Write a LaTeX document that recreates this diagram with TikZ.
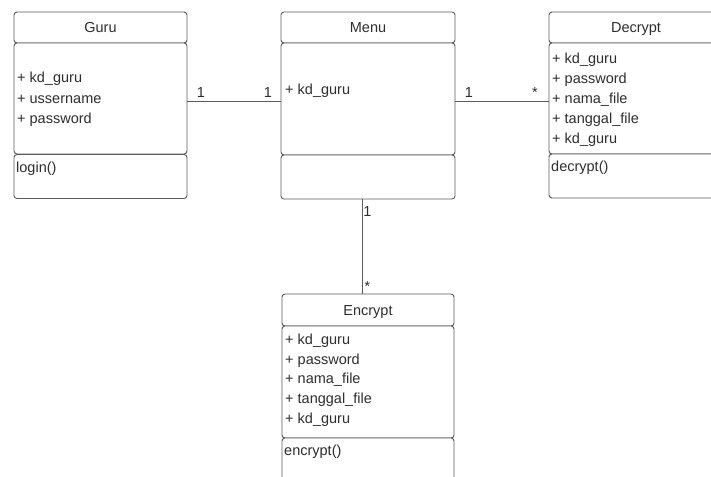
\documentclass[tikz,border=0pt]{standalone}
\usepackage{fontspec}
\setmainfont{Liberation Sans}
\definecolor{linegray}{HTML}{5C5C5C}
\definecolor{textgray}{HTML}{2E2E2E}
\tikzset{
  compart/.style={draw=linegray, line width=0.9pt, rounded corners=3pt, fill=white,
    inner sep=0pt, outer sep=0pt},
  headbox/.style={compart, text=textgray, font=\fontsize{14.5}{19.5}\selectfont,
    text height=10.5pt, text depth=0pt},
  member/.style={text=textgray, font=\fontsize{14.5}{19.5}\selectfont, inner sep=0pt,
    anchor=base west},
  mult/.style={text=textgray, font=\fontsize{14.5}{19.5}\selectfont, inner sep=0pt,
    anchor=base},
  assoc/.style={draw=linegray, line width=0.9pt}
}
\begin{document}
\begin{tikzpicture}[x=1pt, y=-1pt]
  \useasboundingbox (0,0) rectangle (711,476);
  \clip (0,0) rectangle (711,476);

  % class Guru
  \node[headbox, minimum width=173pt, minimum height=31pt] (guruHead) at (100.5,27.5) {Guru};
  \node[compart, minimum width=173pt, minimum height=111pt] (guruAttr) at (100.5,98.5) {};
  \node[compart, minimum width=173pt, minimum height=44pt] (guruOps) at (100.5,176.5) {};
  \foreach \t [count=\i] in {+ kd\_guru, + ussername, + password}
    \node[member] (guruA\i) at (17,63+20*\i) {\t};
  \node[member] (guruM) at (16,172) {login()};

  % class Menu
  \node[headbox, minimum width=174pt, minimum height=31pt] (menuHead) at (368,27.5) {Menu};
  \node[compart, minimum width=174pt, minimum height=112pt] (menuAttr) at (368,99) {};
  \node[compart, minimum width=174pt, minimum height=44pt] (menuOps) at (368,177) {};
  \node[member] (menuA1) at (285,95) {+ kd\_guru};

  % class Decrypt
  \node[headbox, minimum width=174pt, minimum height=31pt] (decHead) at (636,27.5) {Decrypt};
  \node[compart, minimum width=174pt, minimum height=111pt] (decAttr) at (636,98.5) {};
  \node[compart, minimum width=174pt, minimum height=44pt] (decOps) at (636,176) {};
  \foreach \t [count=\i] in {+ kd\_guru, + password, + nama\_file, + tanggal\_file, + kd\_guru}
    \node[member] (decA\i) at (552,44.2+19.8*\i) {\t};
  \node[member] (decM) at (551,171) {decrypt()};

  % class Encrypt
  \node[headbox, minimum width=172pt, minimum height=32pt] (encHead) at (368,310) {Encrypt};
  \node[compart, minimum width=172pt, minimum height=112pt] (encAttr) at (368,382) {};
  \node[compart, minimum width=172pt, minimum height=44pt] (encOps) at (368,460) {};
  \foreach \t [count=\i] in {+ kd\_guru, + password, + nama\_file, + tanggal\_file, + kd\_guru}
    \node[member] (encA\i) at (285,324.5+19.8*\i) {\t};
  \node[member] (encM) at (284,455) {encrypt()};

  % associations
  \draw[assoc] ([yshift=-2.5pt]guruAttr.east) -- ([yshift=-2pt]menuAttr.west);
  \draw[assoc] ([yshift=-2pt]menuAttr.east) -- ([yshift=-2.5pt]decAttr.west);
  \draw[assoc] ([xshift=-6pt]menuOps.south) -- ([xshift=-6pt]encHead.north);

  % multiplicities
  \node[mult] (mGuru) at (201,98) {1};
  \node[mult] (mMenuL) at (268,98) {1};
  \node[mult] (mMenuR) at (469,98) {1};
  \node[mult] (mDec) at (535,98) {*};
  \node[mult] (mMenuB) at (367.5,216) {1};
  \node[mult] (mEnc) at (367.5,291) {*};
\end{tikzpicture}
\end{document}
